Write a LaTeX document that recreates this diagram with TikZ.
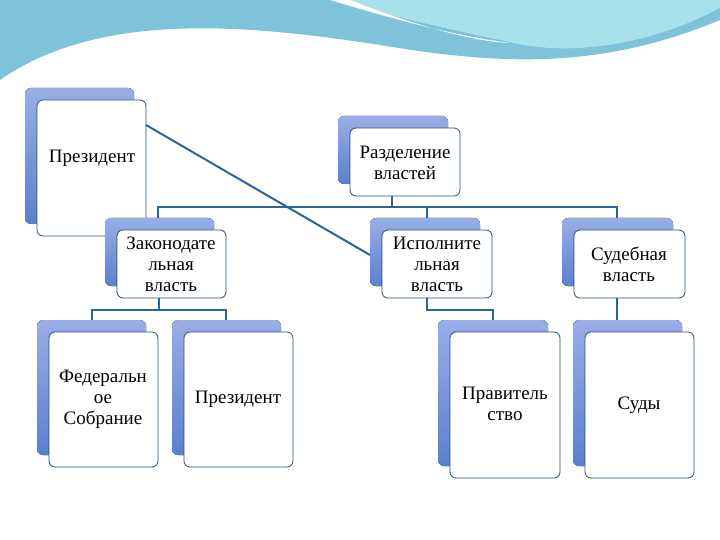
\documentclass[tikz,border=0pt]{standalone}
\usepackage{fontspec}
\setmainfont{Liberation Serif}
\definecolor{bk1}{HTML}{9AAEE6}
\definecolor{bk2}{HTML}{5B7FCF}
\definecolor{lnc}{HTML}{2C6496}
\definecolor{sw1}{HTML}{7EC3DA}
\definecolor{sw2}{HTML}{A8E0EC}
\begin{document}
\begin{tikzpicture}[x=1pt,y=-1pt,
  back/.style={rounded corners=6pt,top color=bk1,bottom color=bk2,draw=none},
  front/.style={rounded corners=6pt,fill=white,draw=lnc!80!black,line width=0.8pt},
  lbl/.style={font=\fontsize{19}{21}\selectfont,align=center,text=black},
  ln/.style={draw=lnc,line width=2pt}]
\useasboundingbox (0,0) rectangle (720,540);
% top swoosh
\fill[sw1] (0,0) -- (720,0) -- (720,20) .. controls (600,70) and (500,65) .. (380,45) .. controls (250,25) and (100,10) .. (0,80) -- cycle;
\fill[sw2] (330,0) -- (720,0) -- (720,8) .. controls (640,50) and (560,55) .. (510,42) .. controls (450,30) and (390,15) .. (330,0);
\fill[white] (330,0) .. controls (390,18) and (450,35) .. (510,43) .. controls (470,42) and (400,20) .. (350,0) -- cycle;
\newcommand{\bx}[5]{% name, x1,y1,x2,y2 (front)
  \fill[back] (#2-12,#3-12) rectangle (#4-12,#5-12);
  \draw[front] (#2,#3) rectangle (#4,#5);
  \coordinate (#1) at ({(#2+#4)/2},{(#3+#5)/2});}
\bx{pres}{37}{100}{146}{236}
\bx{raz}{350}{128}{460}{196}
\bx{zak}{117}{230}{226}{298}
\bx{isp}{382}{230}{492}{298}
\bx{sud}{574}{230}{685}{298}
\bx{fed}{49}{332}{158}{467}
\bx{pr2}{184}{332}{293}{467}
\bx{pra}{450}{332}{560}{478}
\bx{sdy}{585}{332}{694}{478}
% connectors
\draw[ln] (392,196) -- (392,207);
\draw[ln] (158,218) -- (158,207) -- (617,207) -- (617,218);
\draw[ln] (427,207) -- (427,218);
\draw[ln] (159,298) -- (159,310);
\draw[ln] (92,320) -- (92,310) -- (226,310) -- (226,320);
\draw[ln] (427,298) -- (427,310) -- (493,310) -- (493,320);
\draw[ln] (617,298) -- (617,320);
\draw[ln] (146,125) -- (370,255);
% labels
\node[lbl] (tpres) at (92,158) {Президент};
\node[lbl] (traz) at (405,163) {Разделение\\властей};
\node[lbl] (tzak) at (171,264) {Законодате\\льная\\власть};
\node[lbl] (tisp) at (437,264) {Исполните\\льная\\власть};
\node[lbl] (tsud) at (629,264) {Судебная\\власть};
\node[lbl] (tfed) at (103,399) {Федеральн\\ое\\Собрание};
\node[lbl] (tpr2) at (238,399) {Президент};
\node[lbl] (tpra) at (505,404) {Правитель\\ство};
\node[lbl] (tsdy) at (639,405) {Суды};
\end{tikzpicture}
\end{document}
